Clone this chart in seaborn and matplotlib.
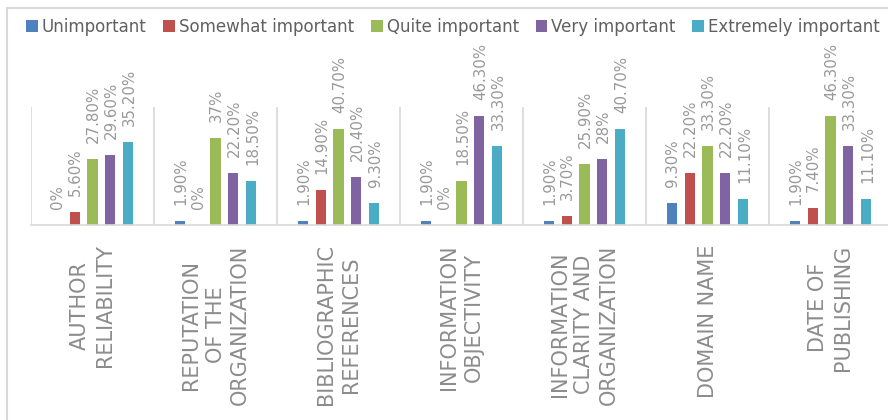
import matplotlib
matplotlib.use("Agg")
import matplotlib.pyplot as plt
from matplotlib.patches import Rectangle
import seaborn as sns
import pandas as pd

# Survey results: share of respondents (%) per importance level
categories = [
    "AUTHOR\nRELIABILITY",
    "REPUTATION\nOF THE\nORGANIZATION",
    "BIBLIOGRAPHIC\nREFERENCES",
    "INFORMATION\nOBJECTIVITY",
    "INFORMATION\nCLARITY AND\nORGANIZATION",
    "DOMAIN NAME",
    "DATE OF\nPUBLISHING",
]
levels = ["Unimportant", "Somewhat important", "Quite important",
          "Very important", "Extremely important"]
unimportant = [0, 1.9, 1.9, 1.9, 1.9, 9.3, 1.9]
somewhat_important = [5.6, 0, 14.9, 0, 3.7, 22.2, 7.4]
quite_important = [27.8, 37, 40.7, 18.5, 25.9, 33.3, 46.3]
very_important = [29.6, 22.2, 20.4, 46.3, 28, 22.2, 33.3]
extremely_important = [35.2, 18.5, 9.3, 33.3, 40.7, 11.1, 11.1]
colors = ["#4F81BD", "#C0504D", "#9BBB59", "#8064A2", "#4BACC6"]

series = [unimportant, somewhat_important, quite_important,
          very_important, extremely_important]
rows = []
for lvl, vals in zip(levels, series):
    for cat, v in zip(categories, vals):
        rows.append({"category": cat, "level": lvl, "value": v})
df = pd.DataFrame(rows)

sns.set_style("white")
plt.rcParams["font.family"] = ["DejaVu Sans"]

W, H = 888, 420
fig = plt.figure(figsize=(W / 100, H / 100), dpi=100)
ax = fig.add_axes([31 / W, 1 - 225 / H, 861 / W, 118 / H])

sns.barplot(data=df, x="category", y="value", hue="level",
            order=categories, hue_order=levels, palette=colors,
            saturation=1, width=0.73, gap=0.44, linewidth=0, ax=ax)

ax.set_xlim(-0.5, len(categories) - 0.5)
ax.set_ylim(0, 50)
ax.set_xlabel("")
ax.set_ylabel("")
ax.set_yticks([])

# category separators
for b in range(len(categories)):
    ax.axvline(b - 0.5, color="#d9d9d9", lw=1.2, zorder=0)

for s in ["top", "right", "left"]:
    ax.spines[s].set_visible(False)
ax.spines["bottom"].set_color("#d9d9d9")
ax.spines["bottom"].set_linewidth(1.2)

ax.tick_params(axis="x", length=0, pad=14)
ax.set_xticks(range(len(categories)))
ax.set_xticklabels(categories, rotation=90, fontsize=15.0,
                   color="#8c8c8c", linespacing=1.3,
                   ha="center", va="top", multialignment="center")

# value labels above each bar
def fmt(v):
    return f"{int(v)}%" if float(v).is_integer() else f"{v:.2f}%"

for container, vals in zip(ax.containers, series):
    for rect, v in zip(container, vals):
        xc = rect.get_x() + rect.get_width() / 2
        ax.annotate(fmt(v), (xc, v), xytext=(1, 16),
                    textcoords="offset pixels", rotation=90,
                    ha="center", va="bottom", fontsize=10.8,
                    color="#999999", annotation_clip=False)

handles, labels = ax.get_legend_handles_labels()
if ax.get_legend() is not None:
    ax.get_legend().remove()
fig.legend(handles, labels, ncol=5, loc="center left",
           bbox_to_anchor=(26 / W, 1 - 27 / H), frameon=False,
           fontsize=12.0, labelcolor="#606060", handlelength=0.7,
           handleheight=0.7, handletextpad=0.25, columnspacing=1.0,
           borderpad=0, borderaxespad=0)

# chart area border
fig.add_artist(Rectangle((7 / W, -0.1), 2, (H - 8) / H + 0.1,
                         transform=fig.transFigure, fill=False,
                         edgecolor="#d9d9d9", lw=1.5))

fig.savefig("out.png", dpi=100)
